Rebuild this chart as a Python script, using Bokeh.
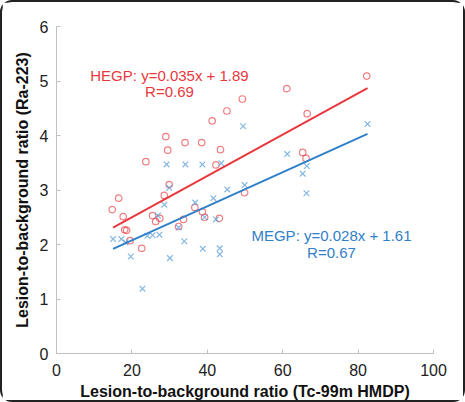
from bokeh.plotting import figure
from bokeh.models import Range1d, Label
from bokeh.embed import file_html
from bokeh.resources import INLINE

# HEGP (red circles)
hegp_x = [14.8, 16.5, 17.7, 18.1, 18.6, 19.5, 22.6, 23.7, 25.5, 26.3, 27.4, 28.6,
          29.0, 29.5, 29.9, 32.4, 33.7, 34.1, 36.7, 38.5, 38.7, 39.3, 41.3, 42.3,
          43.2, 43.5, 45.2, 49.3, 49.9, 61.1, 65.3, 66.2, 66.5, 82.3]
hegp_y = [2.64, 2.85, 2.51, 2.27, 2.26, 2.07, 1.93, 3.52, 2.53, 2.42, 2.48, 2.90,
          3.98, 3.73, 3.10, 2.33, 2.46, 3.87, 2.68, 3.87, 2.60, 2.50, 4.27, 3.46,
          2.48, 3.74, 4.45, 4.67, 2.95, 4.86, 3.69, 3.58, 4.40, 5.09]

# MEGP (blue crosses)
megp_x = [15.0, 17.2, 18.3, 19.7, 22.8, 24.1, 25.5, 27.3, 26.9, 28.6, 29.2, 29.9,
          30.1, 32.4, 33.9, 34.2, 36.8, 38.7, 38.8, 39.3, 41.6, 42.3, 43.3, 43.3,
          43.7, 45.3, 49.5, 49.9, 61.2, 65.3, 66.4, 66.3, 82.5]
megp_y = [2.10, 2.10, 2.04, 1.78, 1.19, 2.16, 2.17, 2.18, 2.53, 2.73, 3.47, 3.04,
          1.75, 2.31, 2.06, 3.47, 2.77, 3.47, 1.92, 2.50, 2.85, 2.46, 1.93, 1.82,
          3.49, 3.01, 4.17, 3.09, 3.66, 3.30, 3.44, 2.94, 4.21]

# regression lines (end points)
fit_x = [15, 82.5]
hegp_fit_y = [2.31, 4.87]
megp_fit_y = [1.92, 4.03]

x_ticks = [0, 20, 40, 60, 80, 100]
y_ticks = [0, 1, 2, 3, 4, 5, 6]

RED = "#e8383d"
BLUE = "#2f80c8"
FONT = "Liberation Sans"

p = figure(width=465, height=402, output_backend="svg", toolbar_location=None,
           x_range=Range1d(0, 100), y_range=Range1d(0, 6),
           min_border_left=54, min_border_right=34, min_border_top=24, min_border_bottom=51)
p.styles = {"border": "2px solid #222", "border-radius": "12px", "box-sizing": "border-box"}
p.outline_line_color = None
p.grid.visible = False
p.background_fill_color = "white"

for ax in (p.xaxis, p.yaxis):
    ax.axis_line_color = "#c0c0c0"
    ax.major_tick_line_color = "#c0c0c0"
    ax.major_tick_in = 4
    ax.major_tick_out = 0
    ax.minor_tick_line_color = None
    ax.major_label_text_font = FONT
    ax.major_label_text_font_size = "16px"
    ax.major_label_text_color = "#222222"
    ax.axis_label_text_font = FONT
    ax.axis_label_text_font_size = "16px"
    ax.axis_label_text_font_style = "bold"
    ax.axis_label_text_color = "#111111"

p.xaxis.ticker = x_ticks
p.yaxis.ticker = y_ticks
p.xaxis.axis_label = "Lesion-to-background ratio (Tc-99m HMDP)"
p.yaxis.axis_label = "Lesion-to-background ratio (Ra-223)"
p.xaxis.major_label_standoff = 10
p.yaxis.major_label_standoff = 8
p.xaxis.axis_label_standoff = 4
p.yaxis.axis_label_standoff = 6

p.scatter(hegp_x, hegp_y, marker="circle", size=6.5, fill_color=None,
          line_color=RED, line_alpha=0.65, line_width=1.2)
p.scatter(megp_x, megp_y, marker="x", size=8, line_color="#5a9fd8",
          line_alpha=0.75, line_width=1.2)

p.line(fit_x, hegp_fit_y, line_color=RED, line_width=2)
p.line(fit_x, megp_fit_y, line_color=BLUE, line_width=2)

def lab(x, y, t, c):
    p.add_layout(Label(x=x, y=y, x_units="screen", y_units="screen", text=t,
                       text_color=c, text_font=FONT, text_font_size="15px",
                       text_align="center", text_baseline="middle"))

# screen coords relative to frame (frame bottom-left is origin)
lab(167 - 54, 351 - 73, "HEGP: y=0.035x + 1.89", RED)
lab(167 - 54, 351 - 89, "R=0.69", RED)
lab(329 - 54, 351 - 233, "MEGP: y=0.028x + 1.61", BLUE)
lab(329 - 54, 351 - 250, "R=0.67", BLUE)

open("out.html", "w").write(file_html(p, INLINE))
